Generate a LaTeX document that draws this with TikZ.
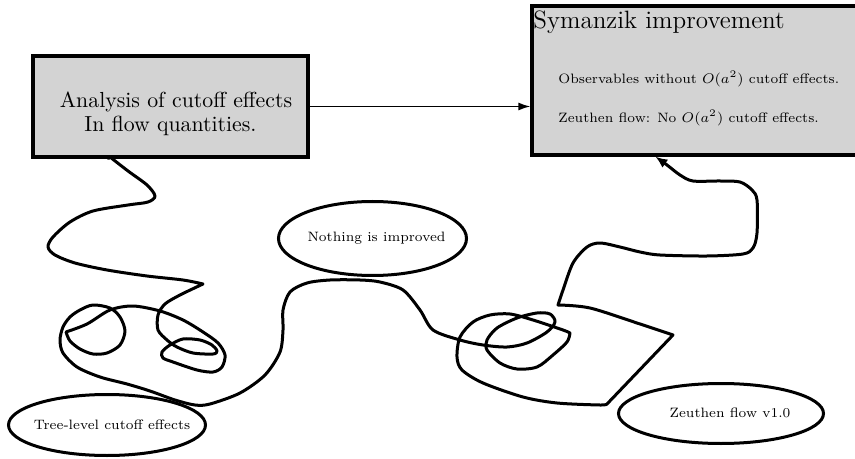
\documentclass[tikz,border=0pt]{standalone}
\usetikzlibrary{shapes.geometric,arrows.meta}
\definecolor{boxgray}{RGB}{211,211,211}
\begin{document}
\begin{tikzpicture}[x=0.5pt,y=-0.5pt,
  box/.style={draw,line width=1.6pt,fill=boxgray,inner sep=0pt},
  oval/.style={ellipse,draw,line width=1.5pt,inner sep=0pt},
  small/.style={font=\fontsize{6.8}{8.5}\selectfont},
  plain/.style={inner sep=0pt},
  wig/.style={line width=1.5pt,line join=round,line cap=round}]
\useasboundingbox (0,0) rectangle (855,459);
% boxes
\node[box,minimum width=137.5pt,minimum height=50.5pt] (A) at (170.5,106.5) {};
\node[plain,align=center,font=\fontsize{10.9}{12}\selectfont] (At) at (170.5,113.6)
  {\hspace*{5.5pt}Analysis of cutoff effects\\In flow quantities.};
\node[box,minimum width=174pt,minimum height=74.5pt] (B) at (706,80.5) {};
\node[plain,anchor=base west,font=\fontsize{12.55}{14}\selectfont] (Bt) at (533,29) {Symanzik improvement};
\node[plain,anchor=base west,small] (B1) at (558,84) {Observables without $O(a^2)$ cutoff effects.};
\node[plain,anchor=base west,small] (B2) at (558,123) {Zeuthen flow: No $O(a^2)$ cutoff effects.};
% ellipses
\node[oval,minimum width=94pt,minimum height=37pt] (N) at (372.5,238.5) {};
\node[plain,small] (Nt) at (376.5,238) {Nothing is improved};
\node[oval,minimum width=98.5pt,minimum height=30.5pt] (T) at (107,425) {};
\node[plain,small] (Tt) at (112,425) {Tree-level cutoff effects};
\node[oval,minimum width=102.5pt,minimum height=30pt] (Z) at (721,413.5) {};
\node[plain,small] (Zt) at (730,413) {Zeuthen flow v1.0};
% straight arrow
\draw[line width=0.8pt,-{Latex[length=6pt,width=4pt]}] (A.east) -- (A.east -| B.west);
% wiggly connector
\coordinate (w0) at ([xshift=38.5pt]A.south west);
\coordinate (w1) at ([xshift=62.5pt]B.south west);
\draw[wig,-{Latex[length=6pt,width=5pt]}] (w0)
 -- plot[smooth] coordinates {(110,157) (128,171) (147,185) (155,196) (148,202) (128,205) (93,211) (70,222) (53,237) (48,247) (55,255) (75,263) (107,270) (147,276) (183,280) (203,284)}
 -- plot[smooth] coordinates {(203,284) (180,295) (165,304) (158,315) (158,330) (167,340) (177,347) (193,353) (213,354) (217,351) (212,345) (200,340) (183,339) (170,345) (162,352) (163,358) (173,362) (197,370) (213,372) (222,367) (225,355) (218,343) (203,332) (183,320) (160,311) (133,306) (110,310) (87,324) (66,332)}
 -- plot[smooth] coordinates {(66,332) (70,341) (80,349) (93,354) (107,353) (120,345) (125,331) (120,317) (110,308) (93,305) (80,310) (70,317) (63,327) (60,340) (63,353) (77,367) (100,377) (127,384) (150,391) (175,400) (195,405) (210,404) (240,393) (265,375) (280,352) (283,330) (283,310) (290,292) (307,283) (330,280) (360,280) (380,282) (403,290) (420,310) (433,330) (460,340) (483,345) (507,347) (527,343) (547,332) (555,322) (550,314) (537,313) (517,318) (497,328) (487,340) (487,350) (500,363) (517,369) (537,367) (553,355) (567,342) (570,333)}
 -- plot[smooth] coordinates {(570,333) (563,330) (533,320) (510,314) (490,315) (473,322) (460,337) (457,357) (462,370) (483,383) (523,397) (557,403) (600,405) (607,404)}
 -- (673,335)
 -- plot[smooth] coordinates {(673,335) (640,324) (590,308) (558,305)}
 -- plot[smooth] coordinates {(558,305) (563,290) (573,263) (587,247) (600,243) (620,247) (640,252) (660,255) (707,256) (743,254) (753,248) (757,233) (757,200) (752,190) (740,182) (720,181) (693,181) (680,175) (667,165) (w1)};
\end{tikzpicture}
\end{document}
